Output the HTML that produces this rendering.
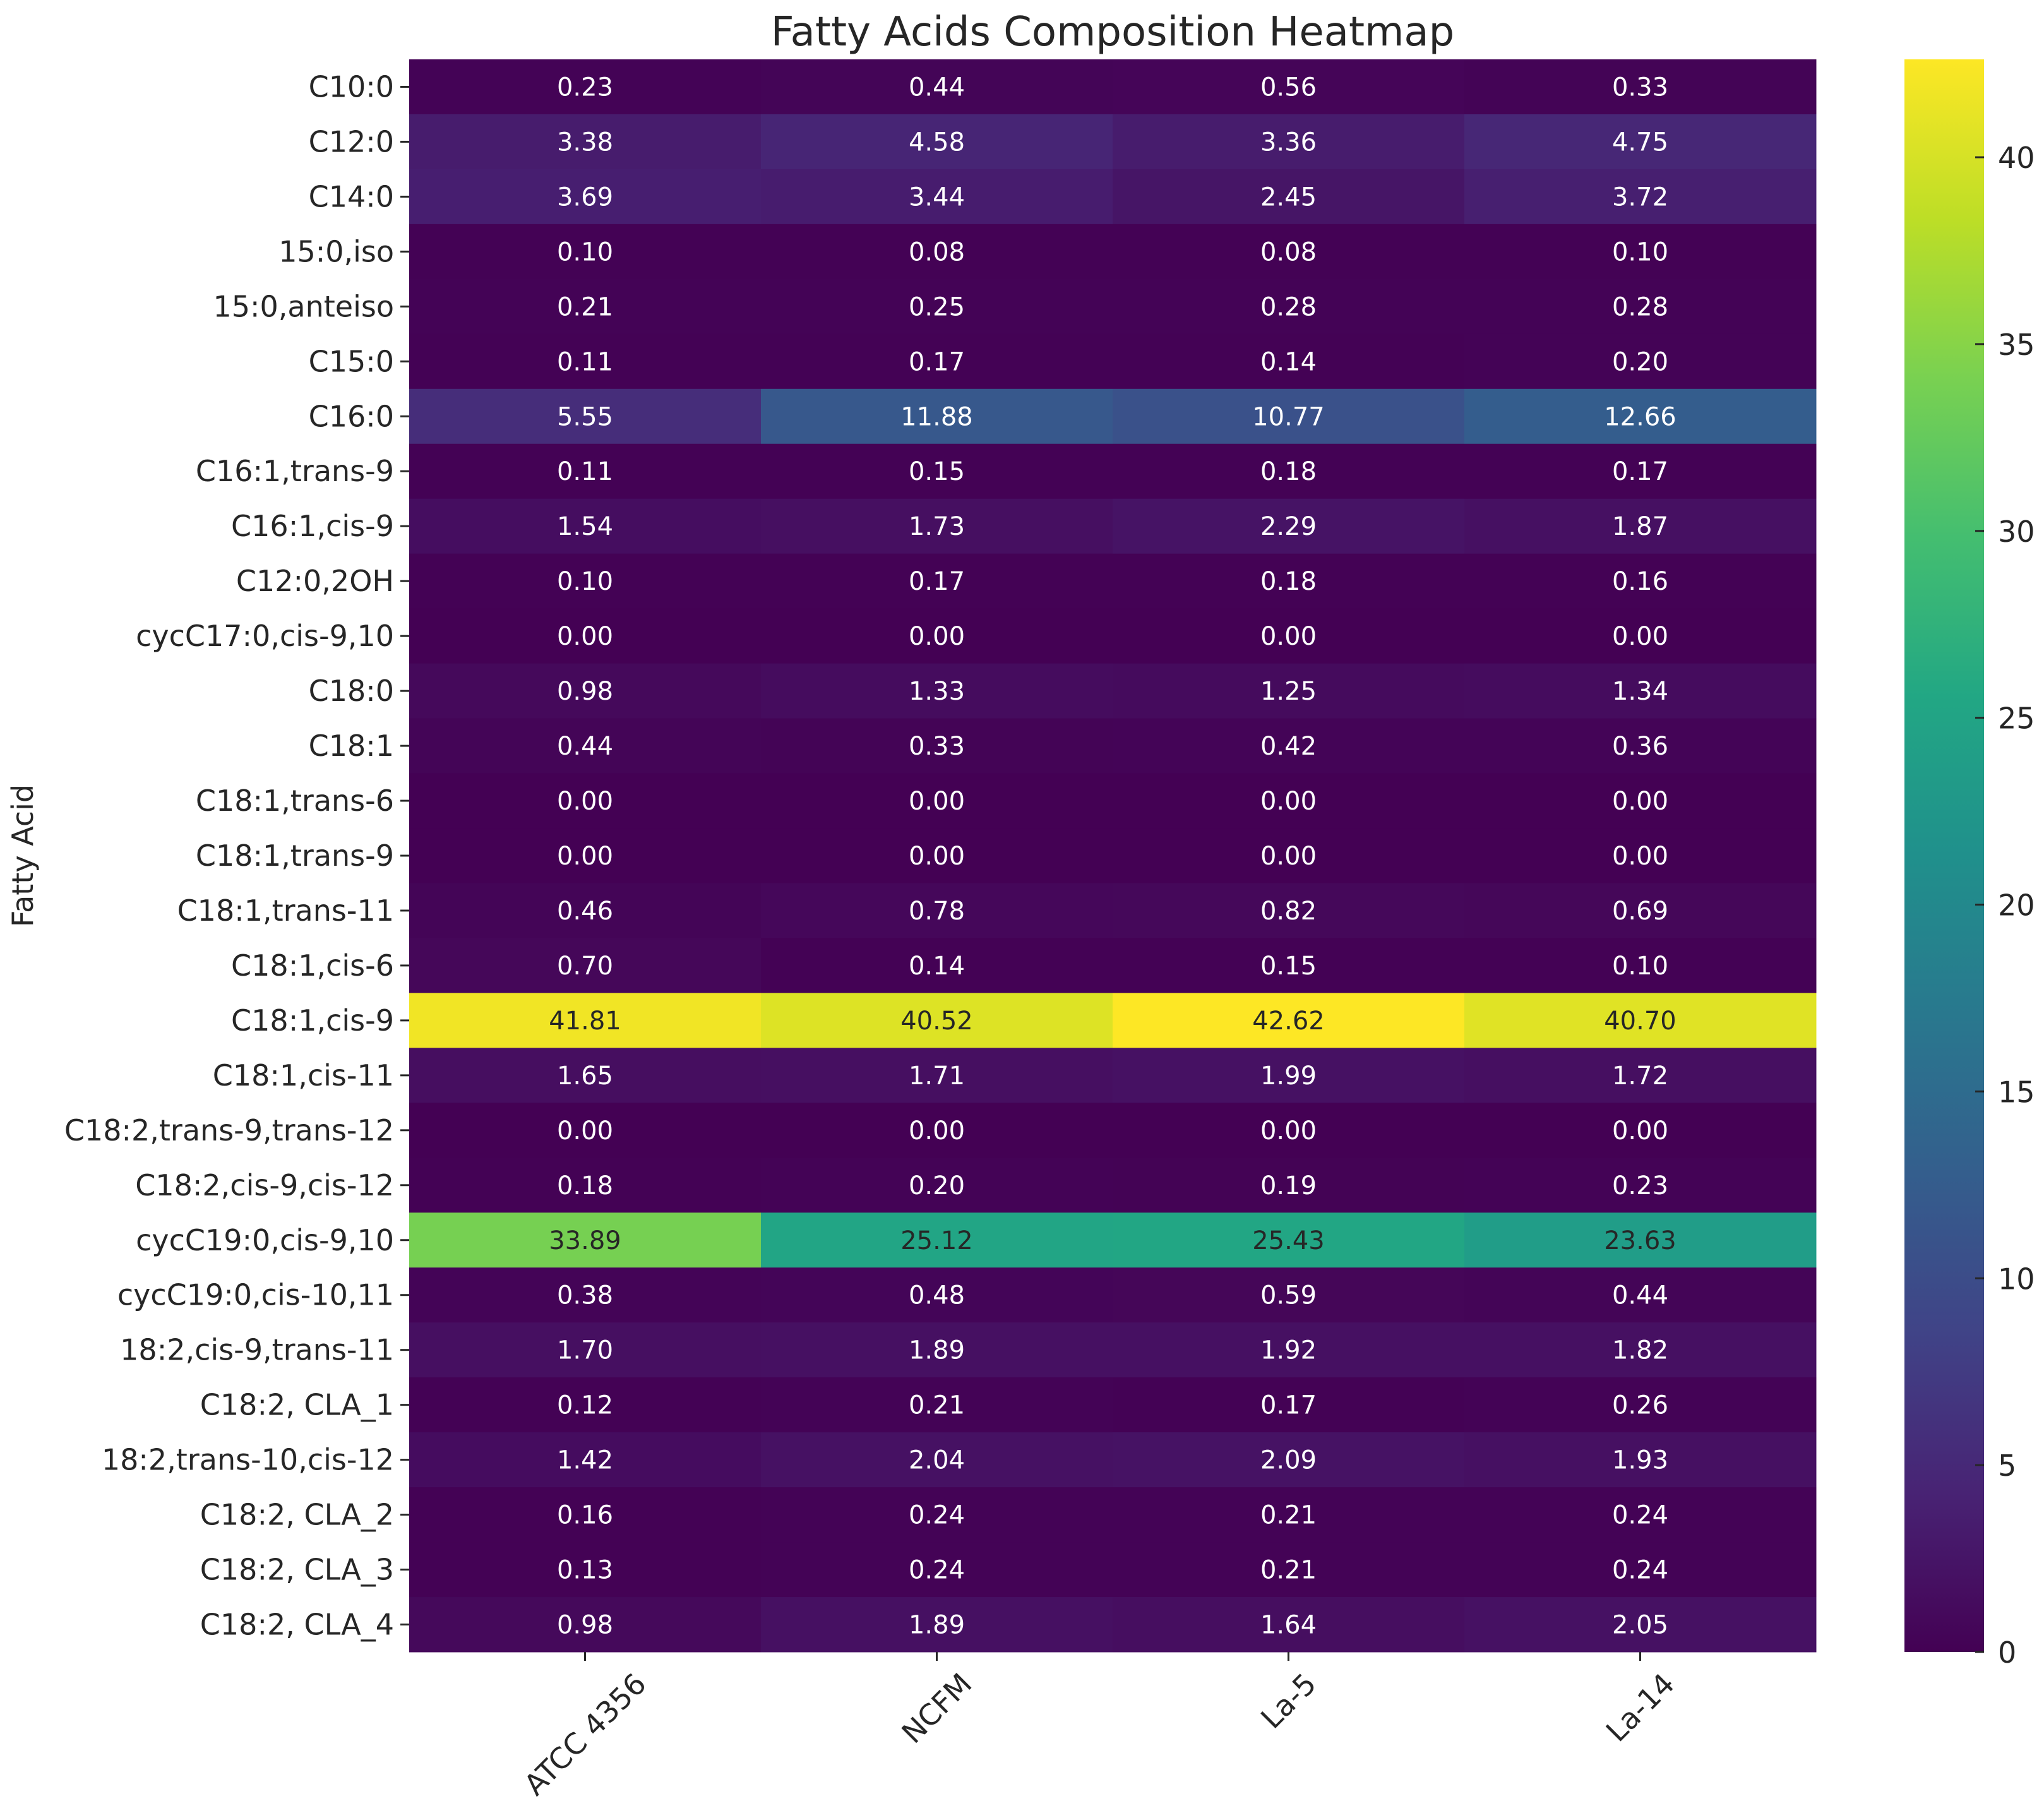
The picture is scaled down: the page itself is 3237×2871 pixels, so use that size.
<!DOCTYPE html>
<html><head><meta charset="utf-8"><style>
html,body{margin:0;padding:0;background:#fff;}
svg text{font-family:"DejaVu Sans","Liberation Sans",sans-serif;}
</style></head><body>
<svg id="chart" width="3237" height="2866" viewBox="0 0 3237 2866" xmlns="http://www.w3.org/2000/svg">
<text x="1762" y="72" font-size="64" text-anchor="middle" fill="#262626">Fatty Acids Composition Heatmap</text>
<text transform="translate(52,1355) rotate(-90)" font-size="46" text-anchor="middle" fill="#262626">Fatty Acid</text>
<g id="cells"></g><g id="ylabels"></g><g id="xlabels"></g><g id="cbar"></g>
</svg>
<script>
const rowLabels = ["C10:0","C12:0","C14:0","15:0,iso","15:0,anteiso","C15:0","C16:0","C16:1,trans-9","C16:1,cis-9","C12:0,2OH","cycC17:0,cis-9,10","C18:0","C18:1","C18:1,trans-6","C18:1,trans-9","C18:1,trans-11","C18:1,cis-6","C18:1,cis-9","C18:1,cis-11","C18:2,trans-9,trans-12","C18:2,cis-9,cis-12","cycC19:0,cis-9,10","cycC19:0,cis-10,11","18:2,cis-9,trans-11","C18:2, CLA_1","18:2,trans-10,cis-12","C18:2, CLA_2","C18:2, CLA_3","C18:2, CLA_4"];
const colLabels = ["ATCC 4356","NCFM","La-5","La-14"];
const atcc = [0.23,3.38,3.69,0.10,0.21,0.11,5.55,0.11,1.54,0.10,0.00,0.98,0.44,0.00,0.00,0.46,0.70,41.81,1.65,0.00,0.18,33.89,0.38,1.70,0.12,1.42,0.16,0.13,0.98];
const ncfm = [0.44,4.58,3.44,0.08,0.25,0.17,11.88,0.15,1.73,0.17,0.00,1.33,0.33,0.00,0.00,0.78,0.14,40.52,1.71,0.00,0.20,25.12,0.48,1.89,0.21,2.04,0.24,0.24,1.89];
const la5 = [0.56,3.36,2.45,0.08,0.28,0.14,10.77,0.18,2.29,0.18,0.00,1.25,0.42,0.00,0.00,0.82,0.15,42.62,1.99,0.00,0.19,25.43,0.59,1.92,0.17,2.09,0.21,0.21,1.64];
const la14 = [0.33,4.75,3.72,0.10,0.28,0.20,12.66,0.17,1.87,0.16,0.00,1.34,0.36,0.00,0.00,0.69,0.10,40.70,1.72,0.00,0.23,23.63,0.44,1.82,0.26,1.93,0.24,0.24,2.05];
const cbarTicks = [0,5,10,15,20,25,30,35,40];

const NS="http://www.w3.org/2000/svg";
const L=648,T=94,R=2876,B=2616,CBL=3016,CBR=3142;
const series=[atcc,ncfm,la5,la14];
const all=[].concat(...series);
const vmin=Math.min(...all), vmax=Math.max(...all);
const cw=(R-L)/colLabels.length, rh=(B-T)/rowLabels.length;
const xPos=c=>L+c*cw, yPos=r=>T+r*rh;
const cbY=v=>B-(v-vmin)/(vmax-vmin)*(B-T);
const vir=[[68,1,84],[72,35,116],[64,67,135],[52,94,141],[41,120,142],[32,144,140],[34,167,132],[68,190,112],[121,209,81],[189,222,38],[253,231,37]];
function viridis(t){t=Math.max(0,Math.min(1,t));const p=t*(vir.length-1),i=Math.min(Math.floor(p),vir.length-2),f=p-i;
 const c=vir[i].map((a,k)=>Math.round(a+(vir[i+1][k]-a)*f));return c;}
function el(tag,attrs,parent){const e=document.createElementNS(NS,tag);for(const k in attrs)e.setAttribute(k,attrs[k]);parent.appendChild(e);return e;}
const cells=document.getElementById('cells');
series.forEach((s,c)=>{s.forEach((v,r)=>{
 const col=viridis((v-vmin)/(vmax-vmin));
 const rect=el('rect',{x:xPos(c),y:yPos(r),width:cw+0.5,height:rh+0.5,fill:`rgb(${col})`},cells);
 
 
 const lum=(0.2126*col[0]+0.7152*col[1]+0.0722*col[2])/255;
 const t=el('text',{x:xPos(c)+cw/2,y:yPos(r)+rh/2+14,'font-size':40,'text-anchor':'middle',fill:lum>0.408?'#262626':'#ffffff'},cells);
 
 
 t.textContent=v.toFixed(2);
});});
const yl=document.getElementById('ylabels');
rowLabels.forEach((lab,r)=>{
 const y=yPos(r)+rh/2;
 el('line',{x1:L-14,x2:L,y1:y,y2:y,stroke:'#262626','stroke-width':3},yl);
 const t=el('text',{x:L-24,y:y+16,'font-size':46,'text-anchor':'end',fill:'#262626'},yl);
 
 
 t.textContent=lab;
});
const xl=document.getElementById('xlabels');
colLabels.forEach((lab,c)=>{
 const x=xPos(c)+cw/2;
 el('line',{x1:x,x2:x,y1:B,y2:B+14,stroke:'#262626','stroke-width':3},xl);
 const t=el('text',{'font-size':46,'text-anchor':'middle',fill:'#262626'},xl);
 
 
 t.textContent=lab;
 const w=t.getComputedTextLength(),h=46;
 const cy=B+26+(w+h)*0.7071/2;
 t.setAttribute('transform',`translate(${x},${cy}) rotate(-45) translate(0,16)`);
});
const cb=document.getElementById('cbar');
const defs=el('defs',{},cb);
const g=el('linearGradient',{id:'vg',x1:0,y1:1,x2:0,y2:0},defs);
vir.forEach((c,i)=>el('stop',{offset:i/(vir.length-1),'stop-color':`rgb(${c})`},g));
const cbr=el('rect',{x:CBL,y:T,width:CBR-CBL,height:B-T,fill:'url(#vg)'},cb);


cbarTicks.forEach(v=>{
 const y=cbY(v);
 el('line',{x1:CBR-14,x2:CBR,y1:y,y2:y,stroke:'#262626','stroke-width':3},cb);
 const t=el('text',{x:CBR+22,y:y+17,'font-size':46,fill:'#262626'},cb);
 
 
 t.textContent=v;
});
</script>
</body></html>
